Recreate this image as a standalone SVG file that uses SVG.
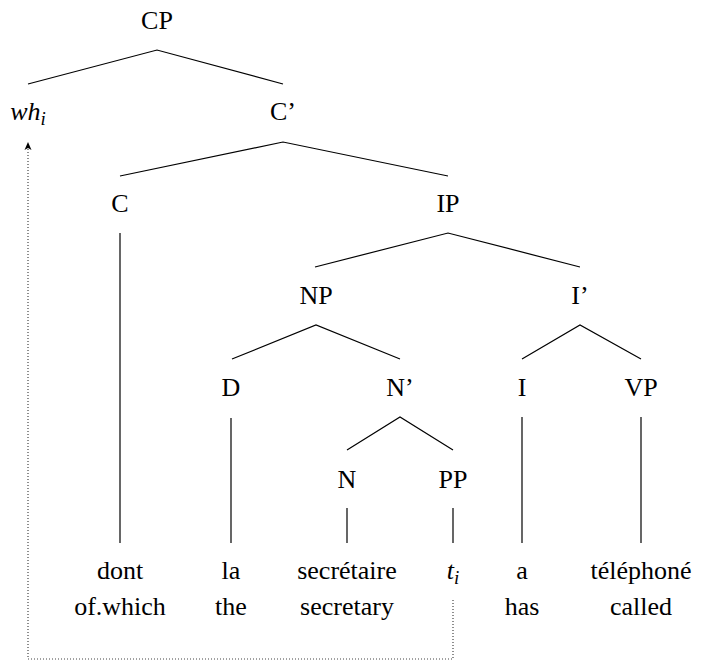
<svg xmlns="http://www.w3.org/2000/svg" width="701" height="662" viewBox="0 0 701 662">
<defs>
<style>
text{font-size:26px;fill:#000;text-anchor:middle}
.it{font-style:italic}
.e{stroke:#000;stroke-width:1.2;fill:none}
.mv{stroke:#444;stroke-width:1.2;fill:none;stroke-dasharray:1 2}
</style>
</defs>
<g id="edges">
<path class="e" d="M28,84 L157,50 L283,84"/>
<path class="e" d="M120,176 L283,142 L448,176"/>
<path class="e" d="M315,267 L448,233 L580,267"/>
<path class="e" d="M232,359 L316,325 L400,359"/>
<path class="e" d="M522,359 L580,325 L641,359"/>
<path class="e" d="M347,450 L400,417 L453,450"/>
<path class="e" d="M120,233 V543"/>
<path class="e" d="M231,418 V543"/>
<path class="e" d="M522,417 V543"/>
<path class="e" d="M641,417 V543"/>
<path class="e" d="M347,508 V543"/>
<path class="e" d="M453,508 V543"/>
<path class="mv" d="M453,600 V659 H28 V147"/>
<path d="M28,142 L31.5,150 L28,148 L24.5,150 Z" fill="#000"/>
</g>
<g font-family="'Liberation Serif', 'DejaVu Serif', serif">
<g id="CP"><text x="157" y="29">CP</text></g>
<g id="wh"><text x="28" y="120" class="it">wh<tspan font-size="19" dy="5">i</tspan></text></g>
<g id="Cbar"><text x="283" y="120">C’</text></g>
<g id="C"><text x="120" y="212">C</text></g>
<g id="IP"><text x="448" y="212">IP</text></g>
<g id="NP"><text x="316" y="304">NP</text></g>
<g id="Ibar"><text x="580" y="304">I’</text></g>
<g id="D"><text x="231" y="396">D</text></g>
<g id="Nbar"><text x="400" y="396">N’</text></g>
<g id="I"><text x="522" y="396">I</text></g>
<g id="VP"><text x="641" y="396">VP</text></g>
<g id="N"><text x="347" y="488">N</text></g>
<g id="PP"><text x="453" y="488">PP</text></g>
<g id="w1"><text x="120" y="579">dont</text><text x="120" y="615">of.which</text></g>
<g id="w2"><text x="231" y="579">la</text><text x="231" y="615">the</text></g>
<g id="w3"><text x="347" y="579">secrétaire</text><text x="347" y="615">secretary</text></g>
<g id="w4"><text x="453" y="579" class="it">t<tspan font-size="19" dy="5">i</tspan></text></g>
<g id="w5"><text x="522" y="579">a</text><text x="522" y="615">has</text></g>
<g id="w6"><text x="641" y="579">téléphoné</text><text x="641" y="615">called</text></g>
</g>
</svg>
